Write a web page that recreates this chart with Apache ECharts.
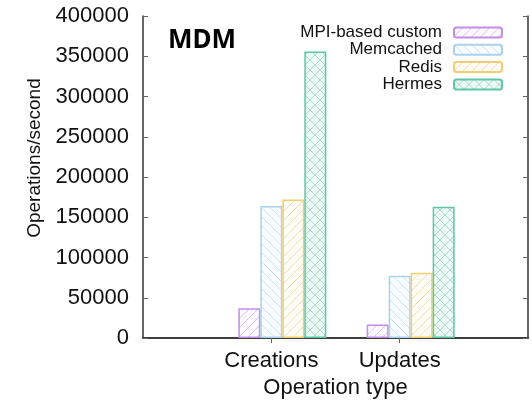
<!DOCTYPE html>
<html>
<head>
<meta charset="utf-8">
<script src="https://cdn.jsdelivr.net/npm/echarts@6/dist/echarts.min.js"></script>
<style>
  html, body { margin: 0; padding: 0; background: #fff; }
  #chart { width: 532px; height: 404px; }
</style>
</head>
<body>
<div id="chart"></div>
<script>
// x positions: an empty slot on each side, like the gnuplot histogram
const categories = ['', 'Creations', 'Updates', ''];
const seriesNames = ['MPI-based custom', 'Memcached', 'Redis', 'Hermes'];
const mpiCustom = [null, 37000, 17000, null];
const memcached = [null, 164000, 77500, null];
const redis = [null, 172000, 81000, null];
const hermes = [null, 356000, 163000, null];
const yTicks = [0, 50000, 100000, 150000, 200000, 250000, 300000, 350000, 400000];

const font = 'Liberation Sans, Arial, sans-serif';

// small canvas tiles for the hatch fills
function hatch(bg, line, dirs, size) {
  const c = document.createElement('canvas');
  c.width = c.height = size;
  const g = c.getContext('2d');
  g.fillStyle = bg;
  g.fillRect(0, 0, size, size);
  g.strokeStyle = line;
  g.lineWidth = 1;
  g.beginPath();
  if (dirs.indexOf('/') >= 0) {
    g.moveTo(0, size); g.lineTo(size, 0);
    g.moveTo(-1, 1); g.lineTo(1, -1);
    g.moveTo(size - 1, size + 1); g.lineTo(size + 1, size - 1);
  }
  if (dirs.indexOf('\\') >= 0) {
    g.moveTo(0, 0); g.lineTo(size, size);
    g.moveTo(-1, size - 1); g.lineTo(1, size + 1);
    g.moveTo(size - 1, -1); g.lineTo(size + 1, 1);
  }
  g.stroke();
  return { image: c, repeat: 'repeat' };
}

const styles = [
  { fill: hatch('#fdfaff', '#dcbdf2', '/', 9), border: '#c48ee8' },
  { fill: hatch('#fafdff', '#c9e3f3', '\\', 9), border: '#a8d2ee' },
  { fill: hatch('#fffdf7', '#f6dca8', '/', 9), border: '#f2cd72' },
  { fill: hatch('#eefaf6', '#a6dcc9', '/\\', 10), border: '#5ec6a4' }
];
const values = [mpiCustom, memcached, redis, hermes];

const chart = echarts.init(document.getElementById('chart'));

const series = [{
  // empty slot that gnuplot leaves in each cluster
  name: 'gap', type: 'bar', barWidth: 22, barGap: '0%', data: [null, null, null, null]
}];
seriesNames.forEach((name, i) => {
  series.push({
    name: name,
    type: 'bar',
    barWidth: 22,
    barGap: '0%',
    data: values[i],
    itemStyle: { color: styles[i].fill, borderColor: styles[i].border, borderWidth: 1.5 }
  });
});

const legends = seriesNames.map((name, i) => ({
  data: [name],
  right: 29,
  top: 24 + i * 17.3,
  padding: 0,
  align: 'right',
  itemWidth: 48,
  itemHeight: 10,
  selectedMode: false,
  textStyle: { fontFamily: font, fontSize: 17, color: '#111', padding: [0, 7, 0, 0] }
}));

const axisLine = { lineStyle: { color: '#333', width: 1.5 } };

chart.setOption({
  animation: false,
  backgroundColor: '#fff',
  grid: { left: 143, right: 4, top: 16, bottom: 60 },
  graphic: [{
    type: 'text', left: 168, top: 28,
    style: { text: 'MDM', font: 'bold 26px "Noto Sans", sans-serif', fill: '#000' }
  }],
  legend: legends,
  xAxis: [{
    type: 'category',
    data: categories,
    boundaryGap: false,
    axisLine: axisLine,
    axisTick: { show: false },
    axisLabel: { fontFamily: font, fontSize: 22, color: '#111', margin: 12, interval: 0 },
    name: 'Operation type',
    nameLocation: 'middle',
    nameGap: 36,
    nameTextStyle: { fontFamily: font, fontSize: 22, color: '#111' }
  }, {
    type: 'category',
    data: categories,
    boundaryGap: false,
    position: 'top',
    axisLine: axisLine,
    axisTick: { show: true, inside: true, length: 5, interval: (idx) => idx === 1 || idx === 2, lineStyle: { color: '#666' } },
    axisLabel: { show: false }
  }],
  yAxis: [{
    type: 'value',
    min: yTicks[0],
    max: yTicks[yTicks.length - 1],
    interval: yTicks[1] - yTicks[0],
    axisLine: { show: true, lineStyle: { color: '#333', width: 1.5 } },
    axisTick: { show: true, inside: true, length: 5, lineStyle: { color: '#666' } },
    splitLine: { show: false },
    axisLabel: { fontFamily: font, fontSize: 22, color: '#111', margin: 14, formatter: (v) => String(v) },
    name: 'Operations/second',
    nameLocation: 'middle',
    nameGap: 86,
    nameTextStyle: { fontFamily: font, fontSize: 19, color: '#111', padding: [0, 0, 0, 38] }
  }, {
    type: 'value',
    position: 'right',
    min: yTicks[0],
    max: yTicks[yTicks.length - 1],
    interval: yTicks[1] - yTicks[0],
    axisLine: { show: true, lineStyle: { color: '#333', width: 1.5 } },
    axisTick: { show: true, inside: true, length: 5, lineStyle: { color: '#666' } },
    splitLine: { show: false },
    axisLabel: { show: false }
  }],
  series: series
});
</script>
</body>
</html>
